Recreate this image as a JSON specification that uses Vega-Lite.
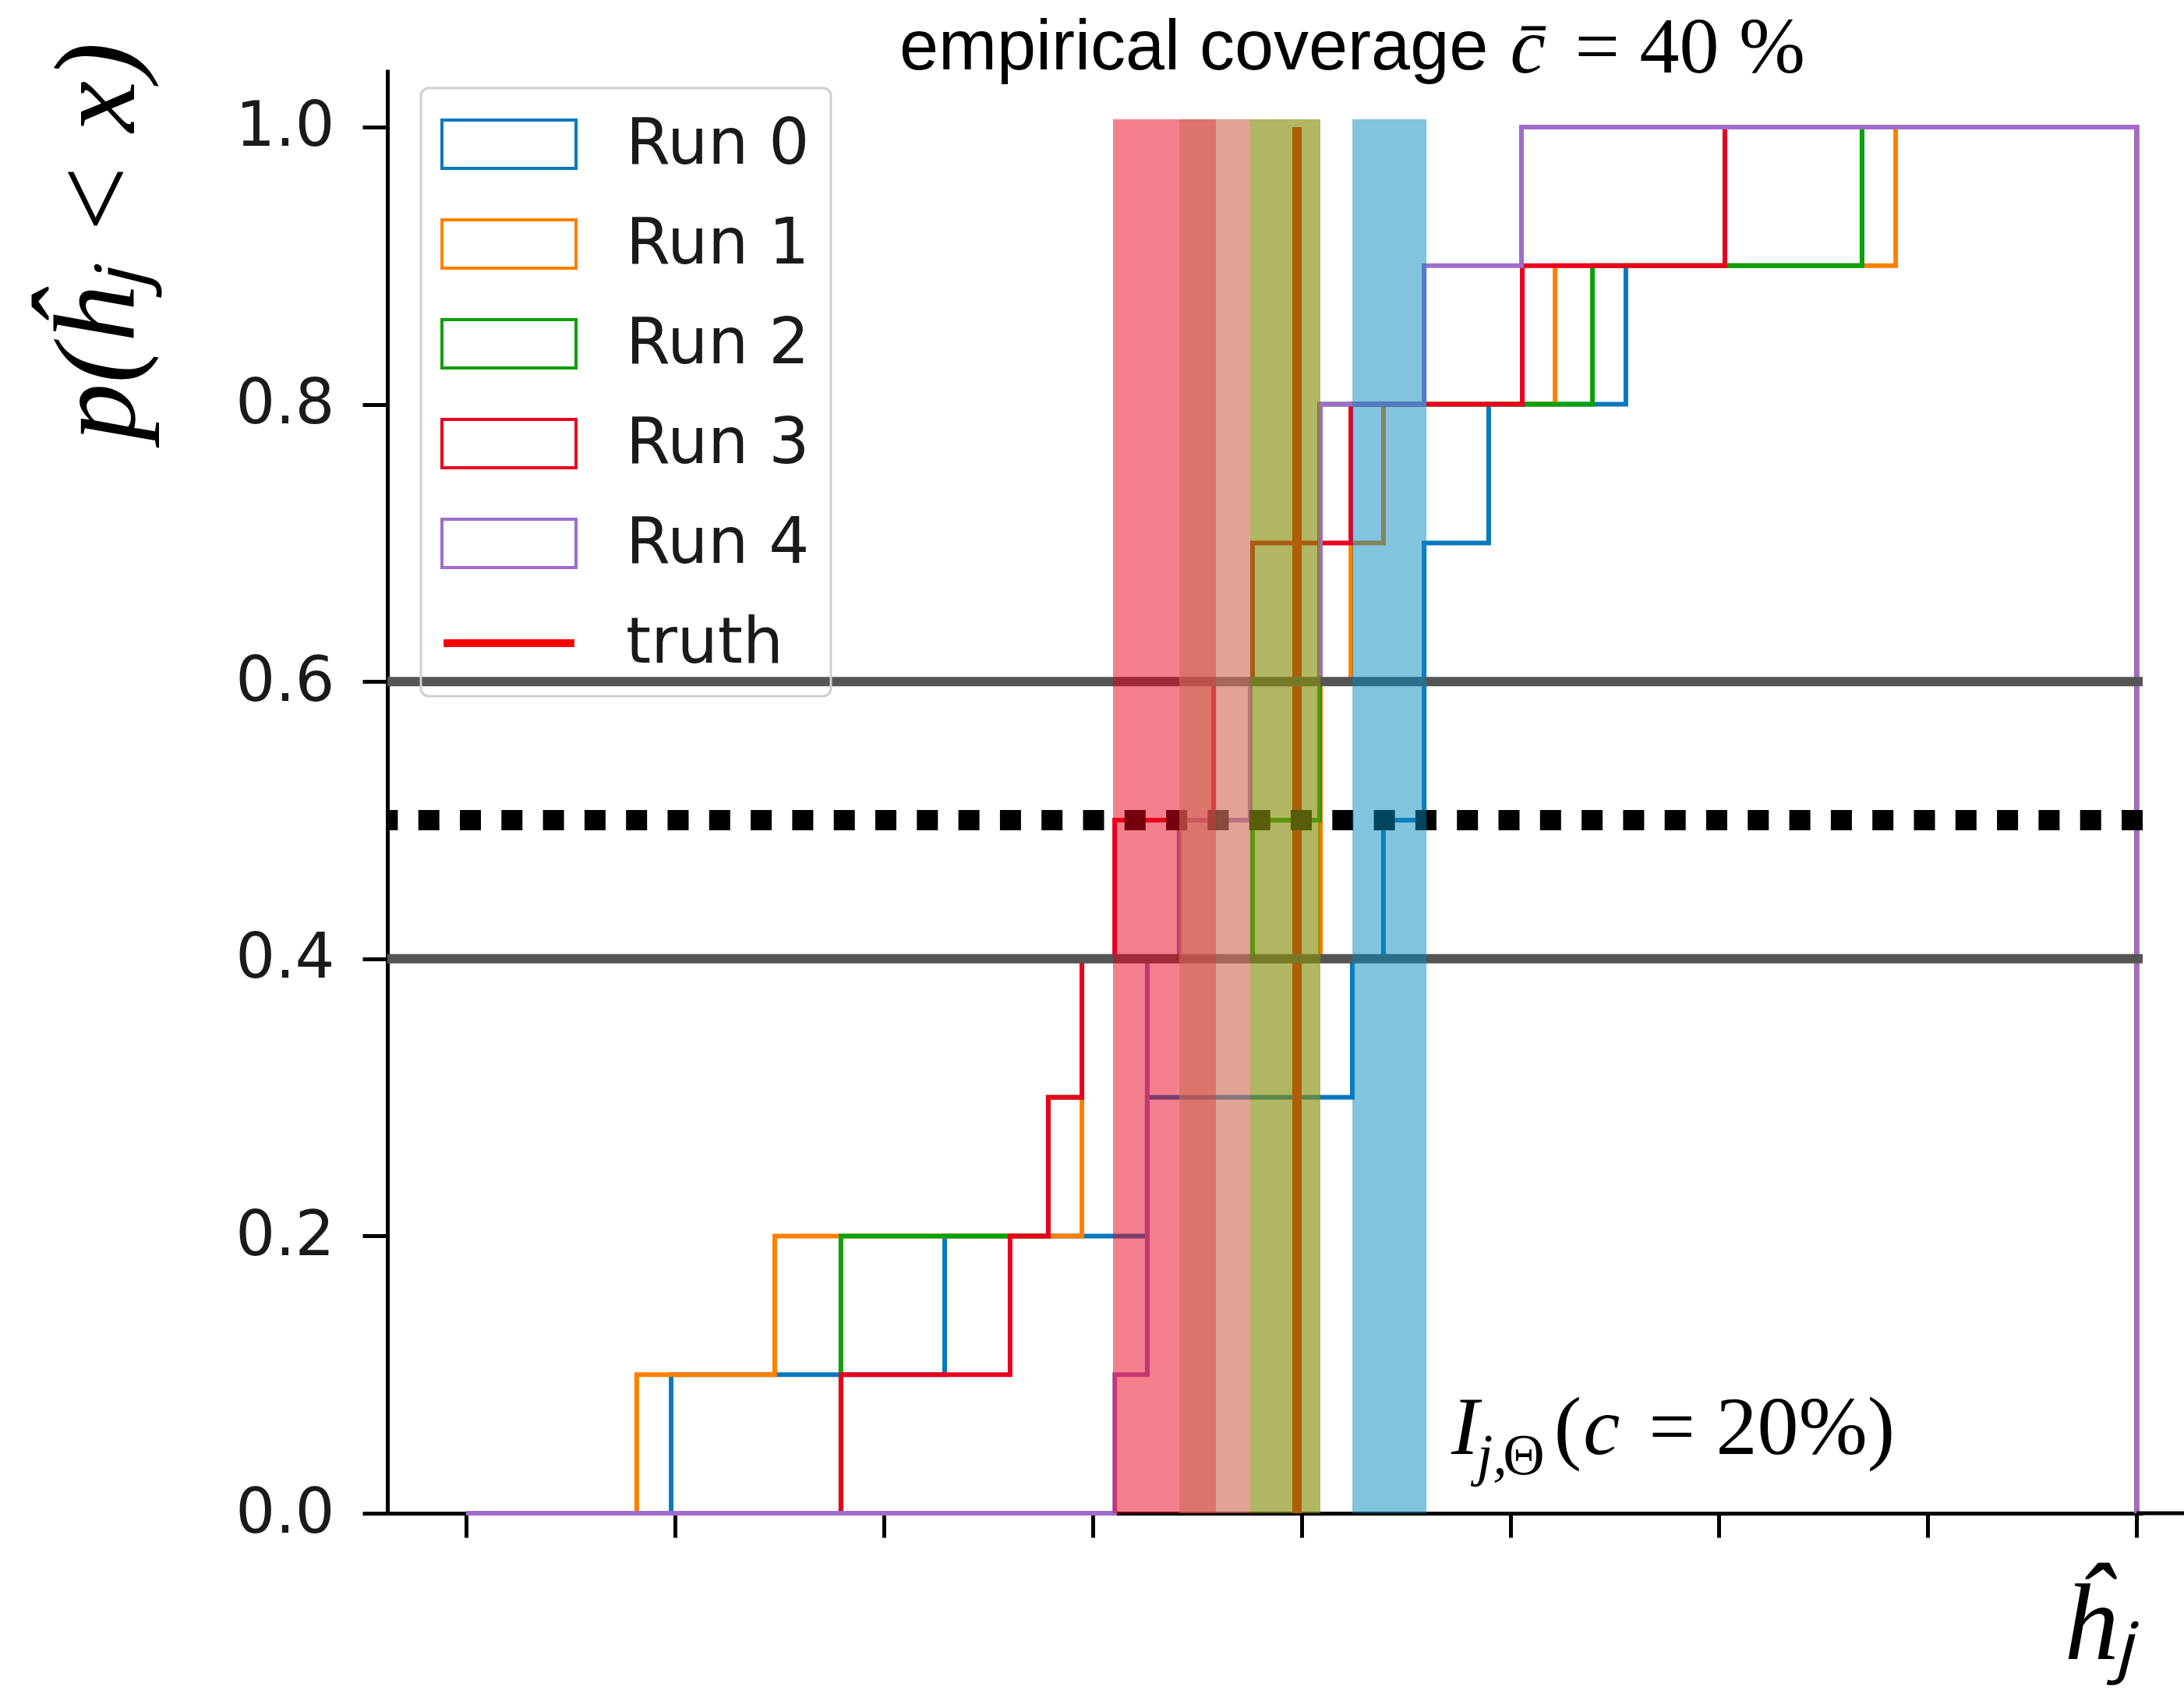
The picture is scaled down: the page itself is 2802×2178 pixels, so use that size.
{
  "$schema": "https://vega.github.io/schema/vega-lite/v6.json",
  "width": 2252,
  "height": 1852,
  "autosize": {"type": "none"},
  "padding": {"left": 497, "top": 89, "right": 53, "bottom": 237},
  "background": "white",
  "config": {
    "view": {"stroke": null},
    "legend": {
      "title": null,
      "padding": 27,
      "strokeColor": "#cfcfcf",
      "strokeWidth": 3,
      "cornerRadius": 10,
      "fillColor": null,
      "symbolSize": 7396,
      "symbolStrokeWidth": 4,
      "symbolOffset": 41,
      "labelOffset": 105,
      "rowPadding": 42,
      "labelFont": "DejaVu Sans",
      "labelFontSize": 82,
      "labelColor": "#1a1a1a",
      "labelLimit": 600,
      "symbolOpacity": 1,
      "symbolFillColor": "transparent"
    }
  },
  "datasets": {
    "steps": [
      {"run": "Run 0", "x": 0, "y": 0}, {"run": "Run 0", "x": 0.982, "y": 0.1}, {"run": "Run 0", "x": 2.292, "y": 0.2}, {"run": "Run 0", "x": 3.262, "y": 0.3}, {"run": "Run 0", "x": 4.244, "y": 0.4}, {"run": "Run 0", "x": 4.393, "y": 0.5}, {"run": "Run 0", "x": 4.588, "y": 0.7}, {"run": "Run 0", "x": 4.897, "y": 0.8}, {"run": "Run 0", "x": 5.554, "y": 0.9}, {"run": "Run 0", "x": 6.685, "y": 1.0}, {"run": "Run 0", "x": 8, "y": 1.0}, {"run": "Run 0", "x": 8, "y": 0},
      {"run": "Run 1", "x": 0, "y": 0}, {"run": "Run 1", "x": 0.817, "y": 0.1}, {"run": "Run 1", "x": 1.478, "y": 0.2}, {"run": "Run 1", "x": 2.949, "y": 0.4}, {"run": "Run 1", "x": 4.091, "y": 0.6}, {"run": "Run 1", "x": 4.237, "y": 0.7}, {"run": "Run 1", "x": 4.393, "y": 0.8}, {"run": "Run 1", "x": 5.215, "y": 0.9}, {"run": "Run 1", "x": 6.846, "y": 1.0}, {"run": "Run 1", "x": 8, "y": 1.0}, {"run": "Run 1", "x": 8, "y": 0},
      {"run": "Run 2", "x": 0, "y": 0}, {"run": "Run 2", "x": 1.795, "y": 0.2}, {"run": "Run 2", "x": 2.788, "y": 0.3}, {"run": "Run 2", "x": 2.949, "y": 0.4}, {"run": "Run 2", "x": 3.766, "y": 0.5}, {"run": "Run 2", "x": 4.087, "y": 0.8}, {"run": "Run 2", "x": 5.394, "y": 0.9}, {"run": "Run 2", "x": 6.685, "y": 1.0}, {"run": "Run 2", "x": 8, "y": 1.0}, {"run": "Run 2", "x": 8, "y": 0},
      {"run": "Run 3", "x": 0, "y": 0}, {"run": "Run 3", "x": 1.795, "y": 0.1}, {"run": "Run 3", "x": 2.605, "y": 0.2}, {"run": "Run 3", "x": 2.788, "y": 0.3}, {"run": "Run 3", "x": 2.949, "y": 0.4}, {"run": "Run 3", "x": 3.106, "y": 0.5}, {"run": "Run 3", "x": 3.58, "y": 0.6}, {"run": "Run 3", "x": 3.766, "y": 0.7}, {"run": "Run 3", "x": 4.237, "y": 0.8}, {"run": "Run 3", "x": 5.058, "y": 0.9}, {"run": "Run 3", "x": 6.028, "y": 1.0}, {"run": "Run 3", "x": 8, "y": 1.0}, {"run": "Run 3", "x": 8, "y": 0},
      {"run": "Run 4", "x": 0, "y": 0}, {"run": "Run 4", "x": 3.106, "y": 0.1}, {"run": "Run 4", "x": 3.262, "y": 0.4}, {"run": "Run 4", "x": 3.415, "y": 0.5}, {"run": "Run 4", "x": 3.755, "y": 0.6}, {"run": "Run 4", "x": 4.091, "y": 0.8}, {"run": "Run 4", "x": 4.588, "y": 0.9}, {"run": "Run 4", "x": 5.054, "y": 1.0}, {"run": "Run 4", "x": 8, "y": 1.0}, {"run": "Run 4", "x": 8, "y": 0}
    ],
    "bands": [
      {"seg": "A", "x": 3.098, "x2": 3.415},
      {"seg": "B", "x": 3.415, "x2": 3.591},
      {"seg": "C", "x": 3.591, "x2": 3.755},
      {"seg": "D", "x": 3.755, "x2": 4.091},
      {"seg": "E", "x": 4.244, "x2": 4.599}
    ],
    "truth": [{"run": "truth", "x": 3.979}],
    "levels": [{"level": 0.4}, {"level": 0.6}],
    "median": [{"level": 0.5}]
  },
  "layer": [
    {
      "data": {"name": "steps"},
      "mark": {"type": "line", "interpolate": "step-after", "strokeWidth": 6, "strokeCap": "butt", "strokeJoin": "miter"},
      "encoding": {
        "x": {
          "field": "x", "type": "quantitative",
          "scale": {"domain": [-0.377, 8.029], "nice": false, "zero": false},
          "axis": {
            "values": [0, 1, 2, 3, 4, 5, 6, 7, 8], "labels": false, "grid": false,
            "tickSize": 31, "tickWidth": 5, "tickColor": "black",
            "domainColor": "black", "domainWidth": 5,
            "title": "ĥⱼ", "titleFont": "Liberation Serif", "titleFontStyle": "italic", "titleFontWeight": "normal",
            "titleFontSize": 140, "titleColor": "black", "titleX": 2148, "titleY": 186,
            "titleAlign": "left", "titleBaseline": "alphabetic", "titleAngle": 0
          }
        },
        "y": {
          "field": "y", "type": "quantitative",
          "scale": {"domain": [0, 1.0416], "nice": false, "zero": false},
          "axis": {
            "values": [0, 0.2, 0.4, 0.6, 0.8, 1.0], "format": ".1f", "grid": false,
            "tickSize": 32, "tickWidth": 5, "tickColor": "black",
            "domainColor": "black", "domainWidth": 5,
            "labelFont": "DejaVu Sans", "labelFontSize": 80, "labelColor": "#1a1a1a", "labelPadding": 36,
            "title": "p(ĥⱼ < x)", "titleFont": "Liberation Serif", "titleFontStyle": "italic", "titleFontWeight": "normal",
            "titleFontSize": 148, "titleColor": "black", "titleAngle": -90, "titleX": -370, "titleY": -35,
            "titleAlign": "right", "titleBaseline": "middle"
          }
        },
        "color": {
          "field": "run", "type": "nominal",
          "scale": {"domain": ["Run 0", "Run 1", "Run 2", "Run 3", "Run 4", "truth"], "range": ["#0a78be", "#ff8000", "#0ca00c", "#e8001e", "#a06ccc", "#ff0000"]},
          "legend": {"orient": "none", "legendX": 43, "legendY": 24, "title": null}
        },
        "order": {"value": null}
      }
    },
    {
      "data": {"name": "truth"},
      "mark": {"type": "rule", "strokeWidth": 12},
      "encoding": {
        "x": {"field": "x", "type": "quantitative", "scale": {"domain": [-0.377, 8.029], "nice": false, "zero": false}},
        "y": {"datum": 0, "type": "quantitative", "scale": {"domain": [0, 1.0416], "nice": false, "zero": false}},
        "y2": {"datum": 1.0},
        "color": {"field": "run", "type": "nominal"}
      }
    },
    {
      "data": {"name": "levels"},
      "mark": {"type": "rule", "color": "#555555", "strokeWidth": 12},
      "encoding": {
        "y": {"field": "level", "type": "quantitative", "scale": {"domain": [0, 1.0416], "nice": false, "zero": false}}
      }
    },
    {
      "data": {"name": "median"},
      "mark": {"type": "rule", "color": "black", "strokeWidth": 26, "strokeDash": [27, 26.3], "strokeCap": "butt"},
      "encoding": {
        "y": {"field": "level", "type": "quantitative", "scale": {"domain": [0, 1.0416], "nice": false, "zero": false}}
      }
    },
    {
      "data": {"name": "bands"},
      "mark": {"type": "rect"},
      "encoding": {
        "x": {"field": "x", "type": "quantitative", "scale": {"domain": [-0.377, 8.029], "nice": false, "zero": false}},
        "x2": {"field": "x2"},
        "y": {"datum": 0, "type": "quantitative", "scale": {"domain": [0, 1.0416], "nice": false, "zero": false}},
        "y2": {"datum": 1.0056},
        "fill": {
          "field": "seg", "type": "nominal",
          "scale": {"domain": ["A", "B", "C", "D", "E"], "range": ["rgba(233,0,25,0.5)", "rgba(211,81,70,0.8)", "rgba(207,113,93,0.65)", "rgba(133,143,13,0.65)", "rgba(5,135,189,0.5)"]},
          "legend": null
        }
      }
    },
    {
      "data": {"values": [{"t": "axis"}]},
      "mark": {"type": "rule", "color": "black", "strokeWidth": 5, "clip": false},
      "encoding": {
        "x": {"datum": 8.0, "type": "quantitative", "scale": {"domain": [-0.377, 8.029], "nice": false, "zero": false}},
        "x2": {"datum": 8.23},
        "y": {"datum": 0, "type": "quantitative", "scale": {"domain": [0, 1.0416], "nice": false, "zero": false}}
      }
    },
    {
      "data": {"name": "steps"},
      "transform": [{"filter": "datum.y > 5"}],
      "mark": {"type": "point", "filled": false, "opacity": 1},
      "encoding": {
        "x": {"field": "x", "type": "quantitative", "scale": {"domain": [-0.377, 8.029], "nice": false, "zero": false}},
        "y": {"field": "y", "type": "quantitative", "scale": {"domain": [0, 1.0416], "nice": false, "zero": false}},
        "color": {"field": "run", "type": "nominal"},
        "shape": {
          "field": "run", "type": "nominal",
          "scale": {"domain": ["Run 0", "Run 1", "Run 2", "Run 3", "Run 4", "truth"], "range": ["M-2,-0.72H2V0.72H-2Z", "M-2,-0.72H2V0.72H-2Z", "M-2,-0.72H2V0.72H-2Z", "M-2,-0.72H2V0.72H-2Z", "M-2,-0.72H2V0.72H-2Z", "M-1.95,-0.07H1.95M-1.95,-0.023H1.95M-1.95,0.023H1.95M-1.95,0.07H1.95"]},
          "legend": {"orient": "none", "legendX": 43, "legendY": 24, "title": null}
        }
      }
    },
    {
      "data": {"values": [{"t": "empirical coverage"}]},
      "mark": {"type": "text", "font": "Liberation Sans", "fontSize": 90, "align": "left", "baseline": "alphabetic", "color": "black"},
      "encoding": {
        "x": {"datum": 2.075, "type": "quantitative", "scale": {"domain": [-0.377, 8.029], "nice": false, "zero": false}},
        "y": {"datum": 1.0416, "type": "quantitative", "scale": {"domain": [0, 1.0416], "nice": false, "zero": false}},
        "text": {"field": "t"}
      }
    },
    {
      "data": {"values": [{"t": "c̄"}]},
      "mark": {"type": "text", "font": "Liberation Serif", "fontStyle": "italic", "fontSize": 102, "align": "left", "baseline": "alphabetic", "color": "black"},
      "encoding": {
        "x": {"datum": 5.0, "type": "quantitative", "scale": {"domain": [-0.377, 8.029], "nice": false, "zero": false}},
        "y": {"datum": 1.0394, "type": "quantitative", "scale": {"domain": [0, 1.0416], "nice": false, "zero": false}},
        "text": {"field": "t"}
      }
    },
    {
      "data": {"values": [{"t": "= 40 %"}]},
      "mark": {"type": "text", "font": "Liberation Serif", "fontSize": 102, "align": "left", "baseline": "alphabetic", "color": "black"},
      "encoding": {
        "x": {"datum": 5.31, "type": "quantitative", "scale": {"domain": [-0.377, 8.029], "nice": false, "zero": false}},
        "y": {"datum": 1.0394, "type": "quantitative", "scale": {"domain": [0, 1.0416], "nice": false, "zero": false}},
        "text": {"field": "t"}
      }
    },
    {
      "data": {"values": [{"t": "I"}]},
      "mark": {"type": "text", "font": "Liberation Serif", "fontStyle": "italic", "fontSize": 106, "align": "left", "baseline": "alphabetic", "color": "black"},
      "encoding": {
        "x": {"datum": 4.718, "type": "quantitative", "scale": {"domain": [-0.377, 8.029], "nice": false, "zero": false}},
        "y": {"datum": 0.0427, "type": "quantitative", "scale": {"domain": [0, 1.0416], "nice": false, "zero": false}},
        "text": {"field": "t"}
      }
    },
    {
      "data": {"values": [{"t": "j,"}]},
      "mark": {"type": "text", "font": "Liberation Serif", "fontStyle": "italic", "fontSize": 74, "align": "left", "baseline": "alphabetic", "color": "black"},
      "encoding": {
        "x": {"datum": 4.84, "type": "quantitative", "scale": {"domain": [-0.377, 8.029], "nice": false, "zero": false}},
        "y": {"datum": 0.0281, "type": "quantitative", "scale": {"domain": [0, 1.0416], "nice": false, "zero": false}},
        "text": {"field": "t"}
      }
    },
    {
      "data": {"values": [{"t": "Θ"}]},
      "mark": {"type": "text", "font": "Liberation Serif", "fontSize": 74, "align": "left", "baseline": "alphabetic", "color": "black"},
      "encoding": {
        "x": {"datum": 4.965, "type": "quantitative", "scale": {"domain": [-0.377, 8.029], "nice": false, "zero": false}},
        "y": {"datum": 0.0281, "type": "quantitative", "scale": {"domain": [0, 1.0416], "nice": false, "zero": false}},
        "text": {"field": "t"}
      }
    },
    {
      "data": {"values": [{"t": "("}]},
      "mark": {"type": "text", "font": "Liberation Serif", "fontSize": 106, "align": "left", "baseline": "alphabetic", "color": "black"},
      "encoding": {
        "x": {"datum": 5.21, "type": "quantitative", "scale": {"domain": [-0.377, 8.029], "nice": false, "zero": false}},
        "y": {"datum": 0.0427, "type": "quantitative", "scale": {"domain": [0, 1.0416], "nice": false, "zero": false}},
        "text": {"field": "t"}
      }
    },
    {
      "data": {"values": [{"t": "c"}]},
      "mark": {"type": "text", "font": "Liberation Serif", "fontStyle": "italic", "fontSize": 106, "align": "left", "baseline": "alphabetic", "color": "black"},
      "encoding": {
        "x": {"datum": 5.35, "type": "quantitative", "scale": {"domain": [-0.377, 8.029], "nice": false, "zero": false}},
        "y": {"datum": 0.0427, "type": "quantitative", "scale": {"domain": [0, 1.0416], "nice": false, "zero": false}},
        "text": {"field": "t"}
      }
    },
    {
      "data": {"values": [{"t": "= 20%)"}]},
      "mark": {"type": "text", "font": "Liberation Serif", "fontSize": 106, "align": "left", "baseline": "alphabetic", "color": "black"},
      "encoding": {
        "x": {"datum": 5.663, "type": "quantitative", "scale": {"domain": [-0.377, 8.029], "nice": false, "zero": false}},
        "y": {"datum": 0.0427, "type": "quantitative", "scale": {"domain": [0, 1.0416], "nice": false, "zero": false}},
        "text": {"field": "t"}
      }
    }
  ]
}
